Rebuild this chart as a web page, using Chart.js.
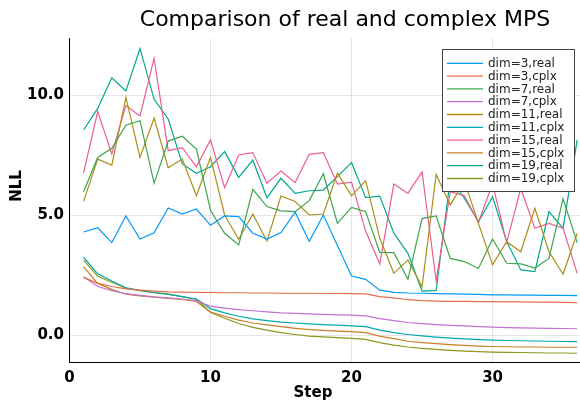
<!DOCTYPE html>
<html>
<head>
<meta charset="utf-8">
<script src="https://cdn.jsdelivr.net/npm/chart.js@4.4.0/dist/chart.umd.min.js"></script>
<style>
  html, body { margin: 0; padding: 0; background: #fff; }
  #wrap { width: 580px; height: 405px; position: relative; }
</style>
</head>
<body>
<div id="wrap"><canvas id="nllChart"></canvas></div>
<script>
var steps = [1, 2, 3, 4, 5, 6, 7, 8, 9, 10, 11, 12, 13, 14, 15, 16, 17, 18,
             19, 20, 21, 22, 23, 24, 25, 26, 27, 28, 29, 30, 31, 32, 33, 34, 35, 36];

var xTicks = [0, 10, 20, 30];
var yTicks = [0, 5, 10];

var seriesNames = ['dim=3,real', 'dim=3,cplx', 'dim=7,real', 'dim=7,cplx', 'dim=11,real',
                   'dim=11,cplx', 'dim=15,real', 'dim=15,cplx', 'dim=19,real', 'dim=19,cplx'];

var real3 = [4.29, 4.47, 3.85, 4.96, 4.0, 4.26, 5.29, 5.04, 5.25, 4.57, 4.96, 4.93, 4.24, 4.0, 4.27, 5.12, 3.9, 5.0,
             3.73, 2.46, 2.32, 1.87, 1.78, 1.75, 1.74, 1.72, 1.71, 1.7, 1.69, 1.67, 1.67, 1.66, 1.66, 1.65, 1.65, 1.64];
var cplx3 = [2.4, 2.15, 2.02, 1.92, 1.87, 1.83, 1.8, 1.79, 1.78, 1.77, 1.76, 1.76, 1.75, 1.75, 1.74, 1.74, 1.74, 1.73,
             1.73, 1.72, 1.71, 1.6, 1.55, 1.47, 1.43, 1.41, 1.4, 1.4, 1.39, 1.39, 1.38, 1.38, 1.37, 1.37, 1.36, 1.35];
var real7 = [5.97, 7.4, 7.78, 8.74, 8.93, 6.32, 8.08, 8.28, 7.75, 5.2, 4.24, 3.75, 6.07, 5.35, 5.17, 5.14, 5.6, 6.72,
             4.65, 5.32, 5.14, 3.44, 3.43, 2.32, 4.85, 4.96, 3.19, 3.06, 2.77, 4.0, 2.99, 2.96, 2.79, 3.19, 5.68, 3.85];
var cplx7 = [2.43, 2.02, 1.85, 1.72, 1.65, 1.59, 1.55, 1.5, 1.43, 1.2, 1.12, 1.06, 1.01, 0.96, 0.92, 0.9, 0.88, 0.86,
             0.84, 0.83, 0.8, 0.68, 0.6, 0.52, 0.47, 0.43, 0.4, 0.38, 0.35, 0.33, 0.31, 0.3, 0.29, 0.28, 0.27, 0.26];
var real11 = [5.57, 7.33, 7.08, 9.9, 7.4, 9.04, 6.97, 7.33, 5.8, 7.4, 5.0, 3.99, 5.04, 3.92, 5.79, 5.56, 5.0, 5.04,
              6.74, 5.8, 6.43, 4.03, 2.57, 3.13, 2.01, 6.69, 5.42, 6.4, 4.65, 2.92, 3.89, 3.47, 5.28, 3.47, 2.54, 4.24];
var cplx11 = [3.24, 2.55, 2.25, 1.97, 1.86, 1.77, 1.7, 1.6, 1.5, 1.1, 0.92, 0.78, 0.67, 0.6, 0.54, 0.5, 0.46, 0.43,
              0.41, 0.38, 0.35, 0.2, 0.1, 0.02, -0.04, -0.09, -0.13, -0.16, -0.19, -0.21, -0.23, -0.24, -0.25, -0.26, -0.27, -0.28];
var real15 = [6.76, 9.31, 7.54, 9.56, 9.13, 11.53, 7.68, 7.81, 7.01, 8.13, 6.14, 7.5, 7.6, 6.32, 6.83, 6.35, 7.53, 7.6,
              6.29, 6.37, 4.33, 2.96, 6.29, 5.9, 6.8, 2.26, 5.97, 5.8, 4.7, 6.3, 3.85, 6.1, 4.45, 4.65, 4.45, 2.57];
var cplx15 = [2.85, 2.15, 1.9, 1.7, 1.63, 1.58, 1.52, 1.48, 1.4, 0.95, 0.78, 0.62, 0.5, 0.42, 0.35, 0.28, 0.22, 0.19,
              0.16, 0.14, 0.1, -0.05, -0.15, -0.26, -0.32, -0.36, -0.4, -0.43, -0.46, -0.48, -0.49, -0.5, -0.5, -0.51, -0.51, -0.51];
var real19 = [8.54, 9.44, 10.72, 10.17, 11.94, 9.82, 9.0, 7.13, 6.74, 7.01, 7.64, 6.57, 7.29, 5.72, 6.53, 5.9, 6.01, 6.04,
              6.6, 7.18, 5.72, 5.79, 4.24, 3.4, 1.83, 1.86, 6.5, 5.7, 4.72, 5.76, 3.89, 2.71, 2.64, 5.14, 4.44, 8.13];
var cplx19 = [3.12, 2.45, 2.2, 1.95, 1.85, 1.76, 1.69, 1.6, 1.49, 0.95, 0.7, 0.48, 0.32, 0.2, 0.1, 0.02, -0.05, -0.08,
              -0.11, -0.14, -0.18, -0.32, -0.42, -0.5, -0.56, -0.6, -0.64, -0.67, -0.69, -0.71, -0.72, -0.73, -0.74, -0.75, -0.75, -0.76];

var allSeries = [real3, cplx3, real7, cplx7, real11, cplx11, real15, cplx15, real19, cplx19];
var colores = ['#009AFA', '#E36F47', '#3EA44E', '#C371D2', '#AC8E18',
               '#00A9AD', '#ED5E93', '#C68225', '#00A98D', '#8E971D'];

var FONT = '"DejaVu Sans", "Liberation Sans", sans-serif';

// titulo, etiquetas de ejes y leyenda dibujados encima
var overlay = {
    id: 'overlay',
    afterDraw: function (chart) {
        var ctx = chart.ctx;
        ctx.save();
        ctx.fillStyle = '#000';
        ctx.textAlign = 'center';
        ctx.textBaseline = 'middle';
        ctx.font = '22px ' + FONT;
        ctx.fillText('Comparison of real and complex MPS', 345, 20);

        ctx.font = 'bold 15px ' + FONT;
        ctx.fillText('Step', 313, 393);
        ctx.save();
        ctx.translate(17, 186);
        ctx.rotate(-Math.PI / 2);
        ctx.fillText('NLL', 0, 0);
        ctx.restore();

        // leyenda
        var bx = 442, by = 49, bw = 132, bh = 142;
        ctx.fillStyle = '#fff';
        ctx.fillRect(bx, by, bw, bh);
        ctx.strokeStyle = '#444';
        ctx.lineWidth = 1;
        ctx.strokeRect(bx + 0.5, by + 0.5, bw, bh);
        ctx.font = '12px ' + FONT;
        ctx.textAlign = 'left';
        chart.data.datasets.forEach(function (ds, i) {
            var y = 63.3 + i * 12.8;
            ctx.strokeStyle = ds.borderColor;
            ctx.lineWidth = 1.3;
            ctx.beginPath();
            ctx.moveTo(447, y);
            ctx.lineTo(483, y);
            ctx.stroke();
            ctx.fillStyle = '#222';
            ctx.fillText(ds.label, 488, y + 0.5);
        });
        ctx.restore();
    }
};

var ctx = document.getElementById('nllChart').getContext('2d');
var nllChart = new Chart(ctx, {
    type: 'line',
    data: {
        datasets: allSeries.map(function (serie, i) {
            return {
                label: seriesNames[i],
                data: steps.map(function (s, j) { return { x: s, y: serie[j] }; }),
                borderColor: colores[i],
                backgroundColor: colores[i],
                borderWidth: 1.2,
                pointRadius: 0,
                tension: 0,
                fill: false
            };
        })
    },
    options: {
        responsive: true,
        maintainAspectRatio: false,
        animation: false,
        layout: { padding: { top: 38, right: 0, bottom: 0, left: 0 } },
        plugins: {
            legend: { display: false },
            title: { display: false },
            tooltip: { enabled: false }
        },
        scales: {
            x: {
                type: 'linear',
                min: -0.035,
                max: 36.2,
                afterFit: function (scale) { scale.height = 43; },
                afterBuildTicks: function (scale) {
                    scale.ticks = xTicks.map(function (v) { return { value: v }; });
                },
                grid: { color: 'rgba(0,0,0,0.1)', drawTicks: false },
                border: { display: true, color: '#000', width: 1 },
                ticks: {
                    color: '#000',
                    padding: 7,
                    maxRotation: 0,
                    font: { family: FONT, size: 15, weight: 'bold' },
                    callback: function (v) { return String(v); }
                }
            },
            y: {
                type: 'linear',
                min: -1.125,
                max: 12.375,
                afterFit: function (scale) { scale.width = 69; },
                afterBuildTicks: function (scale) {
                    scale.ticks = yTicks.map(function (v) { return { value: v }; });
                },
                grid: { color: 'rgba(0,0,0,0.1)', drawTicks: false },
                border: { display: true, color: '#000', width: 1 },
                ticks: {
                    color: '#000',
                    padding: 5,
                    font: { family: FONT, size: 15, weight: 'bold' },
                    callback: function (v) { return Number(v).toFixed(1); }
                }
            }
        }
    },
    plugins: [overlay]
});
</script>
</body>
</html>
